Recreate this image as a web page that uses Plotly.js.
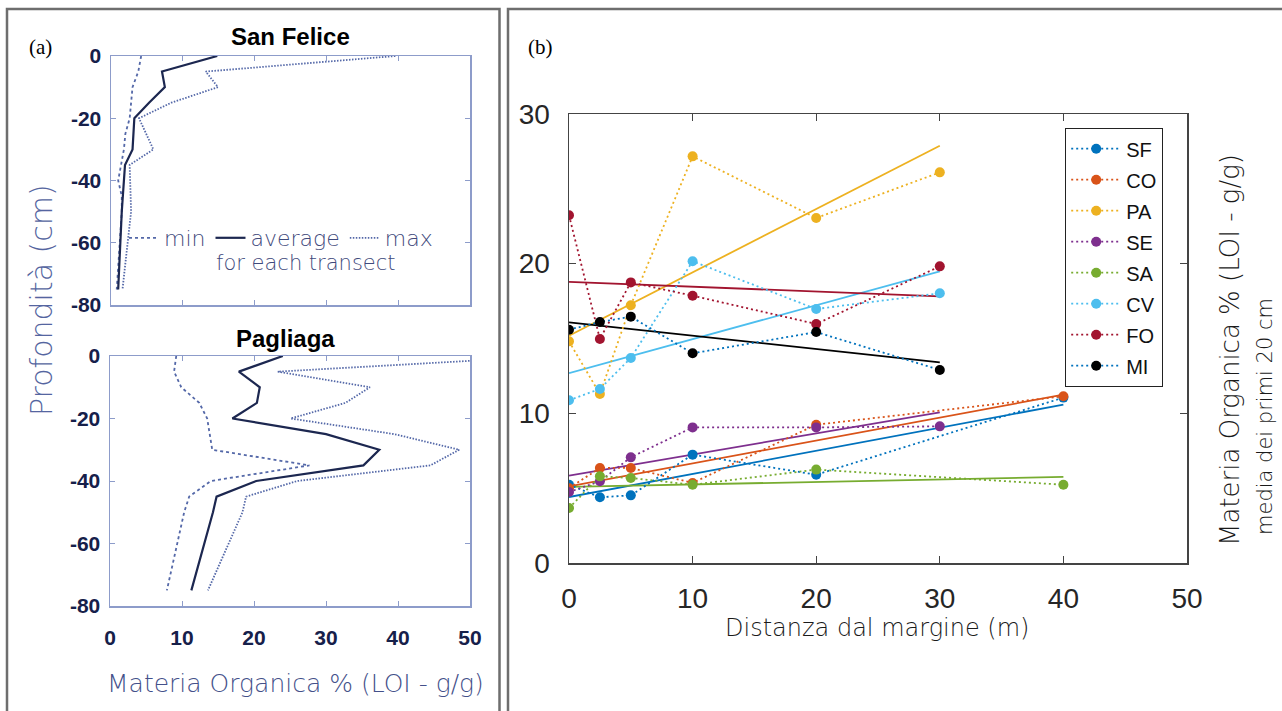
<!DOCTYPE html>
<html><head><meta charset="utf-8">
<script src="https://cdn.plot.ly/plotly-3.0.1.min.js"></script>
<style>html,body{margin:0;padding:0;background:#fff;overflow:hidden}#chart{width:1282px;height:711px}</style>
</head><body><div id="chart"></div>
<script>
// ---------- Panel (a): depth profiles ----------
const depth = [0, -5, -10, -15, -20, -25, -30, -35, -40, -45, -50, -75];
const sfMin = [4.2, 3.8, 3.0, 2.8, 2.6, 2.0, 1.8, 1.4, 1.0, 1.5, 1.5, 0.8];
const sfAvg = [14.8, 7.1, 7.5, 5.3, 3.25, 3.1, 3.0, 1.95, 1.8, 1.6, 1.5, 1.0];
const sfMax = [39.6, 13.2, 14.9, 8.4, 3.9, 4.9, 5.9, 2.6, 2.7, 2.8, 2.8, 1.6];
const pgMin = [9.2, 8.9, 9.9, 12.4, 13.5, 13.9, 14.2, 27.7, 14.0, 11.0, 10.3, 7.9];
const pgAvg = [24.0, 17.9, 20.8, 20.4, 17.0, 30.0, 37.4, 35.2, 20.3, 14.8, 14.3, 11.3];
const pgMax = [62.0, 23.3, 36.1, 32.7, 25.1, 39.5, 48.5, 44.5, 26.0, 18.9, 18.4, 13.6];
const depthTickVals = [0, -20, -40, -60, -80];
const depthTickText = ['0', '-20', '-40', '-60', '-80'];
const omTickVals = [0, 10, 20, 30, 40, 50];
const profileNames = ['min', 'average', 'max'];

// ---------- Panel (b): organic matter vs distance ----------
const distances = [0, 2.5, 5, 10, 20, 30, 40];
const sites = ['SF', 'CO', 'PA', 'SE', 'SA', 'CV', 'FO', 'MI'];
const valSF = [5.23, 4.39, 4.52, 7.24, 5.90, null, 11.05];
const valCO = [5.00, 6.35, 6.35, 5.35, 9.24, null, 11.14];
const valPA = [14.81, 11.29, 17.22, 27.17, 23.05, 26.10, null];
const valSE = [4.74, 5.46, 7.06, 9.06, 9.06, 9.13, null];
const valSA = [3.67, 5.79, 5.68, 5.23, 6.24, null, 5.23];
const valCV = [10.87, 11.63, 13.70, 20.16, 16.97, 18.02, null];
const valFO = [23.23, 14.97, 18.75, 17.86, 15.97, 19.82, null];
const valMI = [15.59, 16.10, 16.46, 14.01, 15.43, 12.90, null];
// linear trend lines: value at x=0 and at the last distance
const fitXEnd = [40, 40, 30, 30, 40, 30, 30, 30];
const fitStart = [4.41, 5.12, 15.19, 5.84, 5.08, 12.69, 18.78, 16.08];
const fitEnd = [10.58, 11.25, 27.88, 10.07, 5.75, 19.49, 17.82, 13.41];

const siteValues = [valSF, valCO, valPA, valSE, valSA, valCV, valFO, valMI];
const lineColors = ['#0072BD', '#D95319', '#EDB120', '#7E2F8E', '#77AC30', '#4DBEEE', '#A2142F', '#0072BD'];
const markerColors = ['#0072BD', '#D95319', '#EDB120', '#7E2F8E', '#77AC30', '#4DBEEE', '#A2142F', '#000000'];
const fitColors = ['#0072BD', '#D95319', '#EDB120', '#7E2F8E', '#77AC30', '#4DBEEE', '#A2142F', '#000000'];

const W = 1282, H = 711;
const px = v => v / W;
const py = v => 1 - v / H;

const navy = '#1c2750';
const profBlue = '#5468a8';
const frame = '#8d9cca';
const labelBlue = '#3f4a7c';
const lightFont = 'DejaVu Sans, Verdana, sans-serif';
const lightW = 200;

const traces = [];
function profile(xs, name, kind, xa, ya, show) {
  const dash = kind === 'average' ? 'solid' : (kind === 'min' ? '3px,3px' : '1.5px,1.5px');
  traces.push({
    x: xs, y: depth, xaxis: xa, yaxis: ya, type: 'scatter', mode: 'lines',
    name: name, showlegend: show, legend: 'legend',
    line: {color: kind === 'average' ? navy : profBlue, width: kind === 'average' ? 2.2 : 1.8, dash: dash},
    hoverinfo: 'skip'
  });
}
profile(sfMin, profileNames[0], 'min', 'x', 'y', true);
profile(sfAvg, profileNames[1], 'average', 'x', 'y', true);
profile(sfMax, profileNames[2], 'max', 'x', 'y', true);
profile(pgMin, profileNames[0], 'min', 'x2', 'y2', false);
profile(pgAvg, profileNames[1], 'average', 'x2', 'y2', false);
profile(pgMax, profileNames[2], 'max', 'x2', 'y2', false);

// trend lines first (below points)
sites.forEach((s, i) => {
  traces.push({
    x: [0, fitXEnd[i]], y: [fitStart[i], fitEnd[i]], xaxis: 'x3', yaxis: 'y3',
    type: 'scatter', mode: 'lines', showlegend: false,
    line: {color: fitColors[i], width: 1.8}, hoverinfo: 'skip'
  });
});
sites.forEach((s, i) => {
  traces.push({
    x: distances, y: siteValues[i], xaxis: 'x3', yaxis: 'y3',
    type: 'scatter', mode: 'lines+markers', name: s, legend: 'legend2',
    legendgroup: s, connectgaps: true,
    line: {color: lineColors[i], width: 1.8, dash: '2px,3px'},
    marker: {color: markerColors[i], size: 10}
  });
});

const aTick = {family: 'Liberation Sans Narrow, Arial Narrow, Arial, sans-serif', size: 21, color: '#16204a', weight: 'bold'};
const aAxisCommon = {showline: true, linecolor: frame, linewidth: 1.5, mirror: 'ticks',
  ticks: 'inside', tickcolor: frame, ticklen: 5, tickwidth: 1, showgrid: false, zeroline: false, fixedrange: true};

const bTick = {family: 'Liberation Sans, Arial, sans-serif', size: 28, color: '#262626'};
const bAxisCommon = {showline: true, linecolor: '#444', linewidth: 1.5, mirror: 'ticks',
  ticks: 'inside', tickcolor: '#444', ticklen: 7, tickwidth: 1.2, showgrid: false, zeroline: false, fixedrange: true};

function ann(text, x, y, size, color, extra) {
  return Object.assign({text: text, x: px(x), y: py(y), xref: 'paper', yref: 'paper', showarrow: false,
    xanchor: 'center', yanchor: 'middle', font: {family: lightFont, size: size, color: color, weight: lightW}}, extra || {});
}

const layout = {
  width: W, height: H,
  margin: {l: 0, r: 0, t: 0, b: 0},
  paper_bgcolor: '#fff', plot_bgcolor: '#fff',
  font: {family: 'Liberation Sans, Arial, sans-serif'},
  xaxis: Object.assign({}, aAxisCommon, {domain: [px(111), px(470)], anchor: 'y', range: [0, 50],
    tickvals: omTickVals, showticklabels: false}),
  yaxis: Object.assign({}, aAxisCommon, {domain: [py(305), py(56)], anchor: 'x', range: [-80, 0],
    tickvals: depthTickVals, ticktext: depthTickText, tickfont: aTick, ticklabelstandoff: 4}),
  xaxis2: Object.assign({}, aAxisCommon, {domain: [px(110), px(470)], anchor: 'y2', range: [0, 50],
    tickvals: omTickVals, tickfont: aTick, ticklabelstandoff: 12}),
  yaxis2: Object.assign({}, aAxisCommon, {domain: [py(606), py(356)], anchor: 'x2', range: [-80, 0],
    tickvals: depthTickVals, ticktext: depthTickText, tickfont: aTick, ticklabelstandoff: 4}),
  xaxis3: Object.assign({}, bAxisCommon, {domain: [px(569), px(1187)], anchor: 'y3', range: [0, 50],
    dtick: 10, tickfont: bTick, ticklabelstandoff: 10}),
  yaxis3: Object.assign({}, bAxisCommon, {domain: [py(563), py(114)], anchor: 'x3', range: [0, 30],
    dtick: 10, tickfont: bTick, ticklabelstandoff: 12}),
  legend: {orientation: 'h', x: px(124), y: py(217), xanchor: 'left', yanchor: 'top',
    bgcolor: 'rgba(0,0,0,0)', borderwidth: 0,
    font: {family: lightFont, size: 22, color: labelBlue, weight: lightW}, itemwidth: 30},
  legend2: {x: px(1065), y: py(128), xanchor: 'left', yanchor: 'top',
    bgcolor: '#fff', bordercolor: '#222', borderwidth: 1.2, tracegroupgap: 2,
    font: {family: 'Liberation Sans, Arial, sans-serif', size: 20, color: '#111'}, itemwidth: 50},
  shapes: [
    {type: 'rect', xref: 'paper', yref: 'paper', x0: px(7), x1: px(499.5), y0: -0.05, y1: py(9),
      line: {color: '#6e6e6e', width: 2.5}},
    {type: 'rect', xref: 'paper', yref: 'paper', x0: px(508), x1: 1.05, y0: -0.05, y1: py(9),
      line: {color: '#6e6e6e', width: 2.5}}
  ],
  annotations: [
    ann('(a)', 40, 47, 21, '#000', {font: {family: 'Liberation Serif, Times New Roman, serif', size: 21, color: '#000'}}),
    ann('(b)', 540, 47, 21, '#000', {font: {family: 'Liberation Serif, Times New Roman, serif', size: 21, color: '#000'}}),
    ann('San Felice', 290, 37, 24, '#000', {font: {family: 'Liberation Sans, Arial, sans-serif', size: 24, color: '#000', weight: 'bold'}}),
    ann('Pagliaga', 285, 338, 24, '#000', {font: {family: 'Liberation Sans, Arial, sans-serif', size: 24, color: '#000', weight: 'bold'}}),
    ann('for each transect', 306, 263, 21, labelBlue),
    ann('Profondità (cm)', 42, 300, 30, '#5565a0', {textangle: -90}),
    ann('Materia Organica % (LOI - g/g)', 295, 683, 25, '#44508a'),
    ann('Distanza dal margine (m)', 877, 628, 24, '#1a1a1a'),
    ann('Materia Organica % (LOI - g/g)', 1230, 350, 26, '#1a1a1a', {textangle: -90}),
    ann('media dei primi 20 cm', 1265, 417, 21, '#1a1a1a', {textangle: -90})
  ]
};

Plotly.newPlot('chart', traces, layout, {staticPlot: true, displayModeBar: false});
</script>
</body></html>
